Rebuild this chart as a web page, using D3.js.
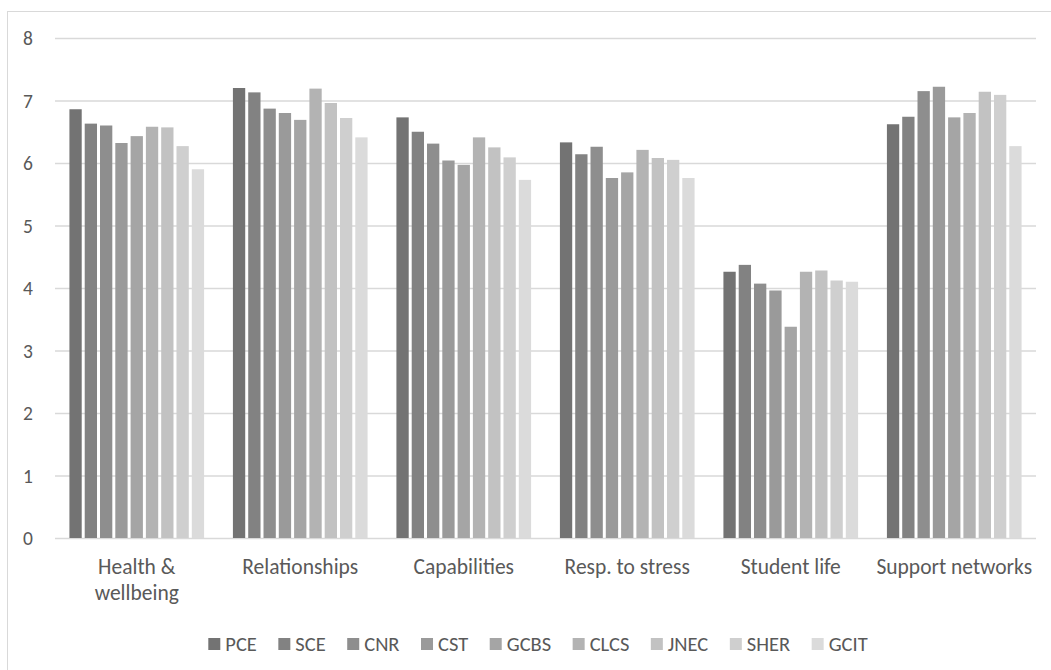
<!DOCTYPE html>
<html>
<head>
<meta charset="utf-8">
<script src="https://cdn.jsdelivr.net/npm/d3@7"></script>
<style>
  html, body { margin: 0; padding: 0; background: #fff; }
  svg { display: block; }
  text { font-family: Carlito, Lato, "Open Sans", sans-serif; fill: #595959; }
</style>
</head>
<body>
<svg id="chart" width="1051" height="670"></svg>
<script>
// Categories (line breaks marked with \n)
const categories = ["Health &\nwellbeing", "Relationships", "Capabilities", "Resp. to stress", "Student life", "Support networks"];
const series = ["PCE", "SCE", "CNR", "CST", "GCBS", "CLCS", "JNEC", "SHER", "GCIT"];
const yTicks = [0, 1, 2, 3, 4, 5, 6, 7, 8];

// Mean scores per college, one array per category (order follows `series`)
const healthWellbeing = [6.86, 6.63, 6.60, 6.32, 6.43, 6.58, 6.57, 6.27, 5.90];
const relationships   = [7.20, 7.13, 6.87, 6.80, 6.69, 7.19, 6.96, 6.72, 6.41];
const capabilities    = [6.73, 6.50, 6.31, 6.04, 5.97, 6.41, 6.25, 6.09, 5.73];
const respToStress    = [6.33, 6.14, 6.26, 5.76, 5.85, 6.21, 6.08, 6.05, 5.76];
const studentLife     = [4.26, 4.37, 4.07, 3.96, 3.38, 4.26, 4.28, 4.12, 4.10];
const supportNetworks = [6.62, 6.74, 7.15, 7.22, 6.73, 6.80, 7.14, 7.09, 6.27];

const seriesColors = ["#737373", "#828282", "#8e8e8e", "#9a9a9a", "#a5a5a5", "#b3b3b3", "#c2c2c2", "#cfcfcf", "#dbdbdb"];

const values = [healthWellbeing, relationships, capabilities, respToStress, studentLife, supportNetworks];
const rows = categories.map((c, i) => ({ category: c, values: values[i] }));

const svg = d3.select("#chart");
const W = 1051, H = 670;
const plot = { left: 55, right: 1036, top: 38, bottom: 538 };

// Outer chart frame
svg.append("rect")
  .attr("x", 7.5).attr("y", 11.5)
  .attr("width", W).attr("height", H)
  .attr("fill", "none").attr("stroke", "#d9d9d9").attr("stroke-width", 1);

const x0 = d3.scaleBand()
  .domain(categories)
  .range([plot.left, plot.right])
  .paddingInner(0.158)
  .paddingOuter(0.079);

const x1 = d3.scaleBand()
  .domain(series)
  .range([0, x0.bandwidth()])
  .padding(0);

const y = d3.scaleLinear().domain([0, 8]).range([plot.bottom, plot.top]);

const color = d3.scaleOrdinal().domain(series).range(seriesColors);

// Gridlines and value labels
const yAxis = d3.axisLeft(y).tickValues(yTicks).tickSize(-(plot.right - plot.left)).tickFormat(d3.format("d")).tickPadding(22);
const gy = svg.append("g").attr("transform", `translate(${plot.left},0)`).call(yAxis);
gy.select(".domain").remove();
gy.selectAll(".tick line").attr("stroke", "#d9d9d9").attr("stroke-width", 1.3);
gy.selectAll(".tick text").attr("font-size", 19.5).style("fill", "#595959").attr("dy", "0.34em");

// Bars
const groups = svg.append("g").selectAll("g")
  .data(rows)
  .join("g")
  .attr("transform", d => `translate(${x0(d.category)},0)`);

const gap = 3;
groups.selectAll("rect")
  .data(d => d.values.map((v, i) => ({ key: series[i], value: v })))
  .join("rect")
  .attr("x", d => x1(d.key) + gap / 2)
  .attr("width", x1.bandwidth() - gap)
  .attr("y", d => y(d.value))
  .attr("height", d => y(0) - y(d.value))
  .attr("fill", d => color(d.key));

// Category labels
const xAxis = svg.append("g");
rows.forEach(r => {
  const lines = r.category.split("\n");
  const t = xAxis.append("text")
    .attr("x", x0(r.category) + x0.bandwidth() / 2)
    .attr("y", 574)
    .attr("text-anchor", "middle")
    .attr("font-size", 21.5);
  lines.forEach((ln, i) => {
    t.append("tspan")
      .attr("x", x0(r.category) + x0.bandwidth() / 2)
      .attr("dy", i === 0 ? 0 : 25.5)
      .text(ln);
  });
});

// Legend
const legend = svg.append("g");
const items = legend.selectAll("g").data(series).join("g");
items.append("rect").attr("width", 12).attr("height", 12).attr("y", -6).attr("fill", d => color(d));
items.append("text").attr("x", 17).attr("dy", "0.36em").attr("font-size", 20.5).text(d => d);
const itemGap = 21.5;
let cx = 0;
items.each(function () {
  const g = d3.select(this);
  g.attr("transform", `translate(${cx},0)`);
  cx += 17 + g.select("text").node().getComputedTextLength() + itemGap;
});
const legendWidth = cx - itemGap;
legend.attr("transform", `translate(${538 - legendWidth / 2},644)`);
</script>
</body>
</html>
